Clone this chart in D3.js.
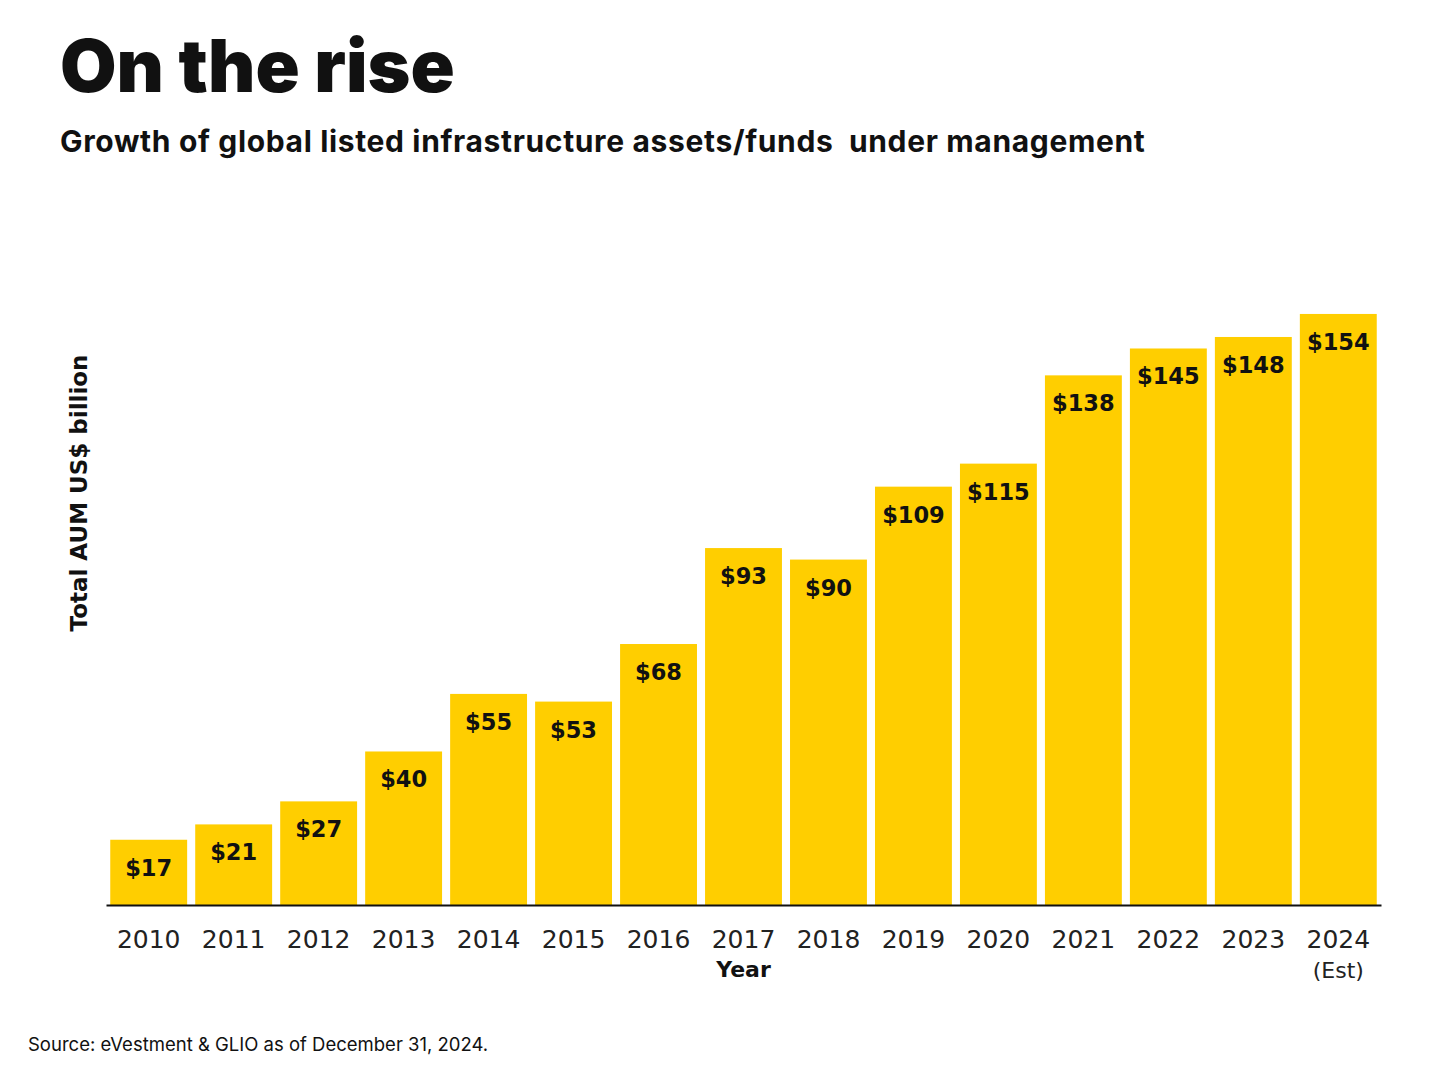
<!DOCTYPE html>
<html>
<head>
<meta charset="utf-8">
<script src="https://cdn.jsdelivr.net/npm/d3@7"></script>
<style>
  body { margin: 0; background: #fff; }
  svg { display: block; }
</style>
</head>
<body>
<div id="chart"></div>
<script>
// data
var years = ["2010", "2011", "2012", "2013", "2014", "2015", "2016", "2017",
             "2018", "2019", "2020", "2021", "2022", "2023", "2024"];
var aum = [17, 21, 27, 40, 55, 53, 68, 93, 90, 109, 115, 138, 145, 148, 154];
var valueLabels = aum.map(function(v) { return "$" + v; });
var estYear = "2024";

var W = 1456, H = 1090;
var baseY = 905;

const svg = d3.select("#chart")
  .append("svg")
    .attr("width", W)
    .attr("height", H);

// title
svg.append("text")
  .attr("x", 60).attr("y", 92)
  .style("font-family", "Inter, 'DejaVu Sans', sans-serif")
  .style("font-weight", 900)
  .style("font-size", "73px")
  .style("fill", "#111")
  .text("On the rise");

svg.append("text")
  .attr("x", 60).attr("y", 152)
  .style("font-family", "Inter, 'DejaVu Sans', sans-serif")
  .style("font-weight", 700)
  .style("font-size", "30px")
  .style("letter-spacing", "0.65px")
  .style("white-space", "pre")
  .style("fill", "#111")
  .text("Growth of global listed infrastructure assets/funds  under management");

var x = d3.scaleBand()
  .domain(years)
  .range([106, 1381])
  .paddingInner(0.095)
  .paddingOuter(0.05);

var y = d3.scaleLinear()
  .domain([0, 160])
  .range([baseY, baseY - 160 * 3.838]);

// bars
svg.selectAll("rect.bar")
  .data(aum)
  .enter()
  .append("rect")
    .attr("class", "bar")
    .attr("x", function(d, i) { return x(years[i]); })
    .attr("y", function(d) { return y(d); })
    .attr("width", x.bandwidth())
    .attr("height", function(d) { return baseY - y(d); })
    .attr("fill", "#FFCE00");

// value labels inside bars
svg.selectAll("text.val")
  .data(aum)
  .enter()
  .append("text")
    .attr("class", "val")
    .attr("x", function(d, i) { return x(years[i]) + x.bandwidth() / 2; })
    .attr("y", function(d) { return y(d) + 36; })
    .attr("text-anchor", "middle")
    .style("font-family", "'DejaVu Sans', sans-serif")
    .style("font-weight", 700)
    .style("font-size", "22.5px")
    .style("fill", "#111")
    .text(function(d, i) { return valueLabels[i]; });

// x axis
var xAxis = svg.append("g")
  .attr("transform", "translate(0," + baseY + ")")
  .call(d3.axisBottom(x).tickSize(0).tickSizeOuter(0));

xAxis.select(".domain")
  .attr("stroke", "#111")
  .attr("stroke-width", 2);

xAxis.selectAll(".tick text")
  .attr("y", 43)
  .attr("dy", 0)
  .style("font-family", "'DejaVu Sans', sans-serif")
  .style("font-size", "25px")
  .style("fill", "#222");

xAxis.selectAll(".tick")
  .filter(function(d) { return d === estYear; })
  .append("text")
    .attr("y", 73)
    .attr("text-anchor", "middle")
    .style("font-family", "'DejaVu Sans', sans-serif")
    .style("font-size", "22px")
    .style("fill", "#222")
    .text("(Est)");

// axis titles
svg.append("text")
  .attr("x", x("2017") + x.bandwidth() / 2)
  .attr("y", 977)
  .attr("text-anchor", "middle")
  .style("font-family", "'DejaVu Sans', sans-serif")
  .style("font-weight", 700)
  .style("font-size", "22px")
  .style("fill", "#111")
  .text("Year");

svg.append("text")
  .attr("transform", "translate(87,493) rotate(-90)")
  .attr("text-anchor", "middle")
  .style("font-family", "'DejaVu Sans', sans-serif")
  .style("font-weight", 700)
  .style("font-size", "23px")
  .style("fill", "#111")
  .text("Total AUM US$ billion");

// source
svg.append("text")
  .attr("x", 28).attr("y", 1051)
  .style("font-family", "Inter, 'Noto Sans', sans-serif")
  .style("font-size", "18.5px")
  .style("fill", "#111")
  .text("Source: eVestment & GLIO as of December 31, 2024.");
</script>
</body>
</html>
